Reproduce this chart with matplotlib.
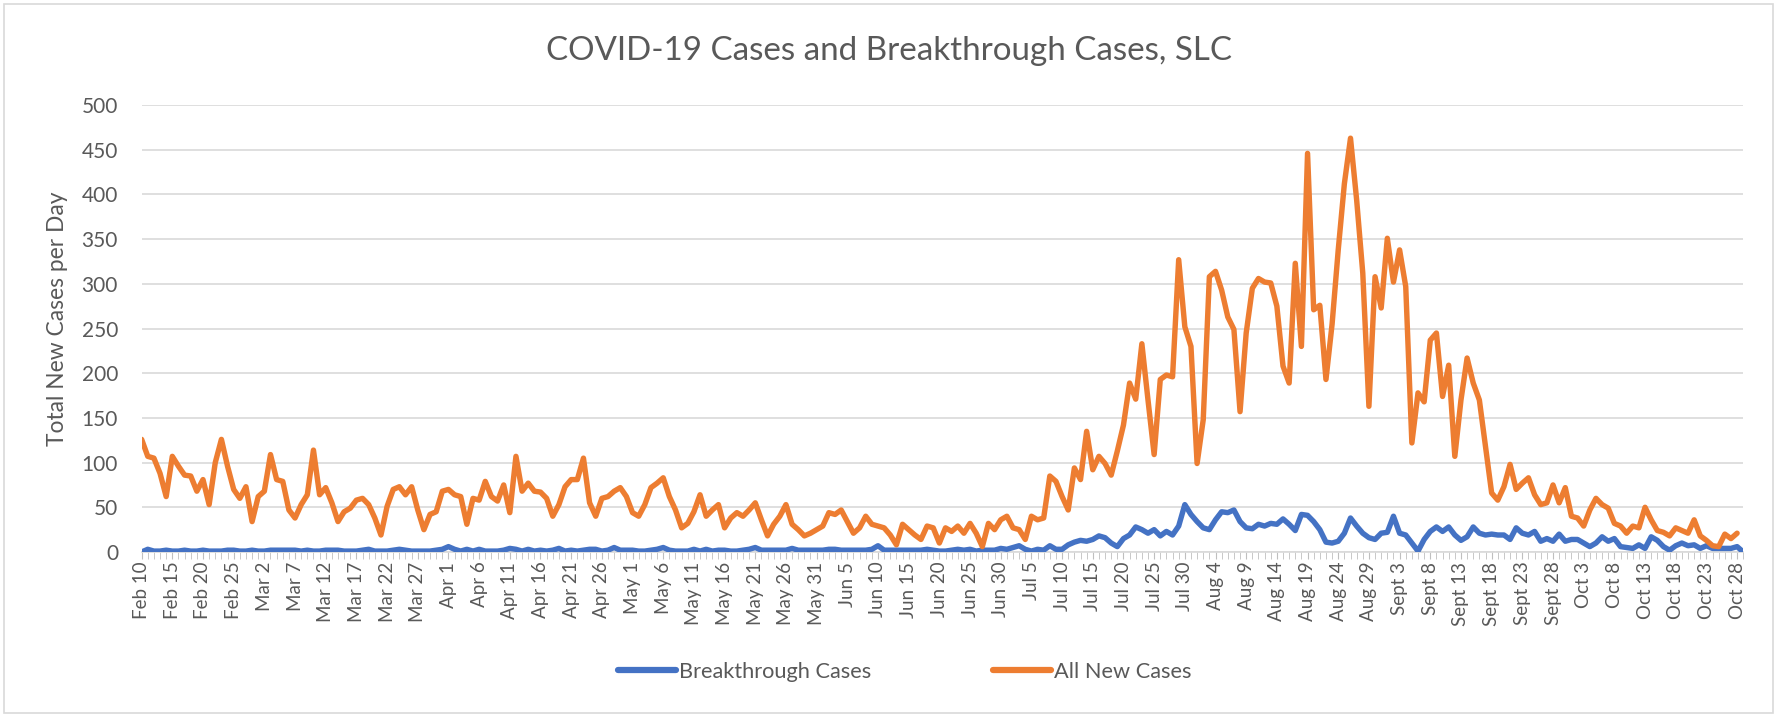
import numpy as np
import pandas as pd
import matplotlib
import matplotlib.pyplot as plt
from matplotlib.patches import Rectangle

matplotlib.use("Agg")
plt.rcParams["font.family"] = ["Lato", "DejaVu Sans"]

# daily counts, Feb 10 2021 onward
breakthrough = [
    0, 3, 1, 1, 2, 1, 1, 2, 1, 1, 2, 1, 1, 1, 2, 2, 1, 1, 2, 1, 1, 2, 2, 2, 2, 2, 1, 2, 1, 1, 2, 2, 2,
    1, 1, 1, 2, 3, 1, 1, 1, 2, 3, 2, 1, 1, 1, 1, 2, 3, 6, 3, 1, 3, 1, 3, 1, 1, 1, 2, 4, 3, 1, 3, 1,
    2, 1, 2, 4, 1, 2, 1, 2, 3, 3, 1, 2, 5, 2, 2, 2, 1, 1, 2, 3, 5, 2, 1, 1, 1, 3, 1, 3, 1, 2, 2, 1,
    1, 2, 3, 5, 2, 2, 2, 2, 2, 4, 2, 2, 2, 2, 2, 3, 3, 2, 2, 2, 2, 2, 3, 7, 2, 2, 2, 2, 2, 2, 2, 3, 2,
    1, 1, 2, 3, 2, 3, 1, 2, 2, 2, 4, 3, 5, 7, 3, 1, 3, 2, 7, 3, 3, 8, 11, 13, 12, 14, 18, 16, 10, 6, 15, 19,
    28, 25, 21, 25, 18, 23, 19, 29, 53, 42, 34, 27, 25, 36, 45, 44, 47, 34, 27, 26,
    31, 29, 32, 31, 37, 31, 24, 42, 41, 34, 25, 11, 10, 12, 21, 38, 29, 21, 16, 14,
    21, 22, 40, 21, 19, 10, 1, 14, 23, 28, 23, 28, 19, 13, 17, 28, 21, 19, 20, 19,
    19, 14, 27, 21, 19, 23, 12, 15, 12, 20, 12, 14, 14, 10, 6, 10, 17, 12, 15, 6,
    5, 4, 8, 4, 17, 13, 6, 2, 7, 10, 7, 8, 4, 7, 4, 4, 4, 4, 6, 0,
]
all_new = [
    126, 107, 105, 88, 62, 107, 96, 86, 85, 68, 81, 53, 100, 126, 96, 70, 60, 73, 34, 62, 68, 109,
    81, 79, 47, 38, 53, 64, 114, 64, 72, 55, 34,
    45, 49, 58, 60, 53, 38, 19, 51, 70, 73, 64, 73, 47, 25, 42, 45, 68, 70, 64, 62, 31, 60, 58, 79,
    62, 57, 75, 44, 107, 68, 77, 68,
    67, 60, 40, 53, 73, 81, 81, 105, 55, 40, 60, 62, 68, 72, 62, 44, 40, 53, 72, 77, 83, 62, 47, 27,
    32, 45, 64, 40, 47, 53, 27, 38, 44,
    40, 47, 55, 36, 18, 31, 40, 53, 31, 25, 18, 21, 25, 29, 44, 42, 47, 34, 21, 27, 40, 31, 29, 27,
    19, 8, 31, 25, 19, 14, 29, 27, 10,
    27, 23, 29, 21, 32, 21, 6, 32, 25, 36, 40, 27, 25, 14, 40, 36, 38, 85, 79, 62, 47, 94, 81, 135,
    92, 107, 99, 86, 113, 142, 189, 171, 233,
    170, 109, 193, 198, 196, 327, 252, 230, 99, 148, 308, 314, 293, 263, 249, 157, 245, 295, 306,
    302, 301, 275, 208, 189, 323, 230, 446, 271, 276, 193, 255, 338,
    412, 463, 394, 312, 163, 308, 273, 351, 302, 338, 297, 122, 178, 168, 237, 245, 174, 209, 107,
    170, 217, 189, 170, 118, 66, 58, 73, 98, 70, 77, 83, 64,
    53, 55, 75, 55, 72, 40, 38, 29, 47, 60, 53, 49, 32, 29, 21, 29, 27, 50, 36, 24, 22, 18, 27, 24,
    21, 36, 18, 13, 7, 6, 20, 15, 21,
]

dates = pd.date_range("2021-02-10", periods=len(breakthrough), freq="D")
month_names = {2: "Feb", 3: "Mar", 4: "Apr", 5: "May", 6: "Jun", 7: "Jul",
               8: "Aug", 9: "Sept", 10: "Oct"}
tick_pos = list(range(0, len(breakthrough), 5))
tick_labels = [f"{month_names[dates[i].month]} {dates[i].day}" for i in tick_pos]

grey_text = "#595959"
grid_col = "#D9D9D9"

fig = plt.figure(figsize=(17.77, 7.15), dpi=100)
ax = fig.add_axes([0.0797, 0.228, 0.9013, 0.625])

ax.plot(np.arange(len(breakthrough)), breakthrough, color="#4472C4", lw=3.9,
        solid_joinstyle="round", solid_capstyle="round", label="Breakthrough Cases", zorder=3)
ax.plot(np.arange(len(all_new)), all_new, color="#ED7D31", lw=3.9,
        solid_joinstyle="round", solid_capstyle="round", label="All New Cases", zorder=3)

ax.set_xlim(0, len(breakthrough) - 1)
ax.set_ylim(0, 500)
ax.set_yticks(range(0, 501, 50))
ax.set_xticks(tick_pos)
ax.set_xticklabels(tick_labels, rotation=90, fontsize=13.5, color=grey_text)
ax.set_xticks(range(len(breakthrough)), minor=True)
ax.tick_params(axis="y", length=0, pad=17, labelsize=15, labelcolor=grey_text)
ax.tick_params(axis="x", which="both", length=5, color="#BFBFBF", pad=2)
ax.grid(axis="y", color=grid_col, lw=1.2)
ax.set_axisbelow(True)
for side in ["top", "right", "left"]:
    ax.spines[side].set_visible(False)
ax.spines["bottom"].set_color(grid_col)
ax.spines["bottom"].set_linewidth(1.2)

fig.text(0.5, 1 - 51 / 715, "COVID-19 Cases and Breakthrough Cases, SLC",
         ha="center", va="center", fontsize=23.9, color=grey_text)
fig.text(58 / 1777, 1 - 319 / 715, "Total New Cases per Day", rotation=90,
         ha="center", va="center", fontsize=16.4, color=grey_text)

leg = fig.legend(loc="center", bbox_to_anchor=(905 / 1777, 1 - 672 / 715), ncol=2,
                 frameon=False, fontsize=15.7, handlelength=2.65, handletextpad=0.15,
                 columnspacing=5.6, labelcolor=grey_text)
for line in leg.get_lines():
    line.set_linewidth(4.5)

fig.patches.append(Rectangle((0.002, 0.003), 0.996, 0.992, transform=fig.transFigure,
                             fill=False, edgecolor=grid_col, lw=1.2))

fig.savefig("out.png", dpi=100)
